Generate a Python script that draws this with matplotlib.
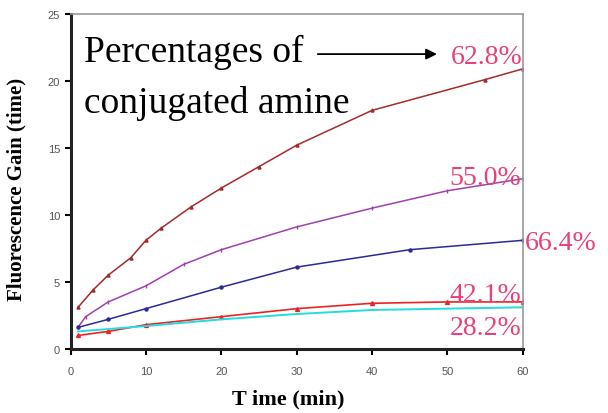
import matplotlib
matplotlib.use("Agg")
import matplotlib.pyplot as plt

# Data
t_628 = [1, 3, 5, 8, 10, 12, 16, 20, 25, 30, 40, 55, 60]
y_628 = [3.1, 4.4, 5.5, 6.8, 8.1, 9.0, 10.6, 12.0, 13.6, 15.2, 17.8, 20.1, 20.9]
t_550 = [1, 2, 5, 10, 15, 20, 30, 40, 50, 60]
y_550 = [1.6, 2.4, 3.5, 4.7, 6.3, 7.4, 9.1, 10.5, 11.8, 12.7]
t_664 = [1, 5, 10, 20, 30, 45, 60]
y_664 = [1.6, 2.2, 3.0, 4.6, 6.1, 7.4, 8.1]
t_421 = [1, 5, 10, 20, 30, 40, 50, 60]
y_421 = [1.0, 1.3, 1.8, 2.4, 3.0, 3.4, 3.5, 3.5]
t_282 = [1, 10, 20, 30, 40, 50, 60]
y_282 = [1.3, 1.7, 2.2, 2.6, 2.9, 3.0, 3.1]

xticks = [0, 10, 20, 30, 40, 50, 60]
yticks = [0, 5, 10, 15, 20, 25]

fig = plt.figure(figsize=(6.08, 4.14), dpi=100)
ax = fig.add_axes([0.116, 0.155, 0.744, 0.809])

ax.plot(t_628, y_628, color='#a52a2a', lw=1.1, marker='^', ms=2.2)
ax.plot(t_550, y_550, color='#a040b0', lw=1.1, marker='|', ms=2.5)
ax.plot(t_664, y_664, color='#2a2a9a', lw=1.1, marker='o', ms=2.2)
ax.plot(t_421, y_421, color='#ee2222', lw=1.2, marker='^', ms=2.8)
ax.plot(t_282, y_282, color='#22dddd', lw=1.4)

ax.set_xlim(0, 60)
ax.set_ylim(0, 25)
ax.set_xticks(xticks)
ax.set_yticks(yticks)
ax.tick_params(axis='both', direction='out', length=4.5, width=1.5, color='black',
               labelsize=8, labelcolor='#555555')
ax.tick_params(axis='x', pad=8)
ax.tick_params(axis='y', pad=3)
for lab in ax.get_xticklabels() + ax.get_yticklabels():
    lab.set_fontfamily('Liberation Sans')
for s in ['left', 'bottom']:
    ax.spines[s].set_linewidth(2.2)
    ax.spines[s].set_color('#222222')
for s in ['top', 'right']:
    ax.spines[s].set_linewidth(1.2)
    ax.spines[s].set_color('#999999')

serif = 'Liberation Serif'
ax.set_xlabel('T ime (min)', fontfamily=serif, fontweight='bold', fontsize=16)
ax.xaxis.set_label_coords(0.482, -0.118)
ax.set_ylabel('Fluorescence Gain (time)', fontfamily=serif, fontweight='bold', fontsize=15)
ax.yaxis.set_label_coords(-0.097, 0.478)

ax.text(1.8, 21.5, 'Percentages of', fontfamily=serif, fontsize=27, va='baseline', ha='left')
ax.text(1.8, 17.7, 'conjugated amine', fontfamily=serif, fontsize=27, va='baseline', ha='left')
ax.annotate('', xy=(48.6, 22.0), xytext=(32.8, 22.0),
            arrowprops=dict(arrowstyle='-|>', color='black', lw=1.3, mutation_scale=16,
                            shrinkA=0, shrinkB=0))

pink = '#e8407a'
fs = 20
ax.text(59.9, 21.3, '62.8%', fontfamily=serif, fontsize=fs, color=pink, ha='right', va='baseline')
ax.text(59.8, 12.3, '55.0%', fontfamily=serif, fontsize=fs, color=pink, ha='right', va='baseline')
ax.text(60.3, 7.46, '66.4%', fontfamily=serif, fontsize=fs, color=pink, ha='left', va='baseline', clip_on=False)
ax.text(59.8, 3.58, '42.1%', fontfamily=serif, fontsize=fs, color=pink, ha='right', va='baseline')
ax.text(59.8, 1.12, '28.2%', fontfamily=serif, fontsize=fs, color=pink, ha='right', va='baseline')

fig.savefig('out.png', dpi=100)
